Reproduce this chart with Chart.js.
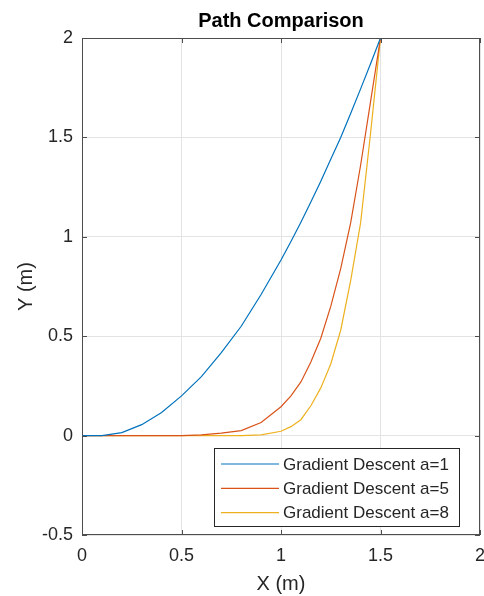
<!DOCTYPE html>
<html>
<head>
<meta charset="utf-8">
<script src="https://cdn.jsdelivr.net/npm/chart.js@4/dist/chart.umd.min.js"></script>
<style>
  html, body { margin: 0; padding: 0; background: #fff; }
  #wrap { width: 484px; height: 596px; }
</style>
</head>
<body>
<div id="wrap"><canvas id="myChart" width="484" height="596"></canvas></div>
<script>
// path samples (x in m)
var xValues = [0, 0.1, 0.2, 0.3, 0.4, 0.5, 0.6, 0.7, 0.8, 0.9, 1.0,
    1.05, 1.1, 1.15, 1.2, 1.25, 1.3, 1.35, 1.4, 1.45, 1.5]
var pathA1 = [0, 0, 0.015, 0.055, 0.116, 0.2, 0.297, 0.417, 0.55, 0.71, 0.883,
    0.976, 1.073, 1.175, 1.28, 1.39, 1.5, 1.62, 1.744, 1.87, 2]
var pathA5 = [0, 0, 0, 0, 0, 0, 0.004, 0.012, 0.025, 0.066, 0.145,
    0.2, 0.27, 0.37, 0.49, 0.65, 0.84, 1.07, 1.36, 1.68, 2]
var pathA8 = [0, 0, 0, 0, 0, 0, 0, 0, 0, 0.004, 0.022,
    0.045, 0.08, 0.15, 0.24, 0.36, 0.53, 0.78, 1.07, 1.52, 2]
var seriesLabels = ['Gradient Descent a=1', 'Gradient Descent a=5', 'Gradient Descent a=8']
var xTicks = [0, 0.5, 1, 1.5, 2]
var yTicks = [-0.5, 0, 0.5, 1, 1.5, 2]

var colors = ['#0072BD', '#D95319', '#EDB120']
var textColor = '#262626'
var fontFam = '"Liberation Sans", Arial, sans-serif'

function toPoints(ys) {
    return xValues.map(function (x, i) {
        return { x: x, y: ys[i] }
    })
}

// title, axis labels, box, inward ticks, legend
var decor = {
    id: 'decor',
    afterDraw: function (chart) {
        var ctx = chart.ctx
        var a = chart.chartArea
        var xs = chart.scales.x
        var ys = chart.scales.y
        ctx.save()

        // box
        ctx.strokeStyle = '#4d4d4d'
        ctx.lineWidth = 1
        ctx.strokeRect(a.left + 0.5, a.top + 0.5, a.right - a.left - 1, a.bottom - a.top - 1)

        // inward ticks on all four sides
        ctx.beginPath()
        xTicks.forEach(function (t) {
            var px = Math.round(xs.getPixelForValue(t)) + 0.5
            ctx.moveTo(px, a.bottom); ctx.lineTo(px, a.bottom - 5)
            ctx.moveTo(px, a.top); ctx.lineTo(px, a.top + 5)
        })
        yTicks.forEach(function (t) {
            var py = Math.round(ys.getPixelForValue(t)) + 0.5
            ctx.moveTo(a.left, py); ctx.lineTo(a.left + 5, py)
            ctx.moveTo(a.right, py); ctx.lineTo(a.right - 5, py)
        })
        ctx.stroke()

        // title
        ctx.fillStyle = '#000'
        ctx.textAlign = 'center'
        ctx.textBaseline = 'middle'
        ctx.font = 'bold 20px ' + fontFam
        ctx.fillText('Path Comparison', (a.left + a.right) / 2, 21)

        // axis labels
        ctx.fillStyle = textColor
        ctx.font = '20px ' + fontFam
        ctx.fillText('X (m)', (a.left + a.right) / 2, 584)
        ctx.save()
        ctx.translate(26, (a.top + a.bottom) / 2)
        ctx.rotate(-Math.PI / 2)
        ctx.fillText('Y (m)', 0, 0)
        ctx.restore()

        // legend
        var lx = 214, ly = 448, lw = 245, lh = 78
        ctx.fillStyle = '#fff'
        ctx.fillRect(lx, ly, lw, lh)
        ctx.strokeStyle = '#262626'
        ctx.strokeRect(lx + 0.5, ly + 0.5, lw, lh)
        ctx.font = '17px ' + fontFam
        ctx.textAlign = 'left'
        chart.data.datasets.forEach(function (ds, i) {
            var cy = 464 + i * 24.3
            ctx.strokeStyle = ds.borderColor
            ctx.lineWidth = 1.2
            ctx.beginPath()
            ctx.moveTo(221, cy); ctx.lineTo(279, cy)
            ctx.stroke()
            ctx.fillStyle = textColor
            ctx.fillText(ds.label, 283, cy + 1)
        })
        ctx.restore()
    }
}

var config = {
    type: 'scatter',
    data: {
        datasets: [pathA1, pathA5, pathA8].map(function (ys, i) {
            return {
                label: seriesLabels[i],
                data: toPoints(ys),
                showLine: true,
                borderColor: colors[i],
                backgroundColor: colors[i],
                borderWidth: 1.2,
                pointRadius: 0,
                tension: 0
            }
        })
    },
    options: {
        responsive: false,
        animation: false,
        layout: { padding: { top: 38, right: 4, left: 0, bottom: 0 } },
        plugins: {
            legend: { display: false },
            title: { display: false },
            tooltip: { enabled: false }
        },
        scales: {
            x: {
                type: 'linear',
                min: 0,
                max: 2,
                afterFit: function (s) {
                    s.height = 61
                    s.paddingLeft = 0
                    s.paddingRight = 0
                },
                afterBuildTicks: function (s) {
                    s.ticks = xTicks.map(function (v) { return { value: v } })
                },
                border: { display: false },
                grid: { color: '#e3e3e3', drawTicks: false },
                ticks: {
                    padding: 10,
                    color: textColor,
                    font: { family: fontFam, size: 18 },
                    callback: function (v) { return String(v) }
                }
            },
            y: {
                type: 'linear',
                min: -0.5,
                max: 2,
                afterFit: function (s) {
                    s.width = 82
                    s.paddingTop = 0
                    s.paddingBottom = 0
                },
                afterBuildTicks: function (s) {
                    s.ticks = yTicks.map(function (v) { return { value: v } })
                },
                border: { display: false },
                grid: { color: '#e3e3e3', drawTicks: false },
                ticks: {
                    padding: 9,
                    color: textColor,
                    font: { family: fontFam, size: 18 },
                    callback: function (v) { return String(v) }
                }
            }
        }
    },
    plugins: [decor]
}

var myChart = new Chart(document.getElementById('myChart'), config)
</script>
</body>
</html>
